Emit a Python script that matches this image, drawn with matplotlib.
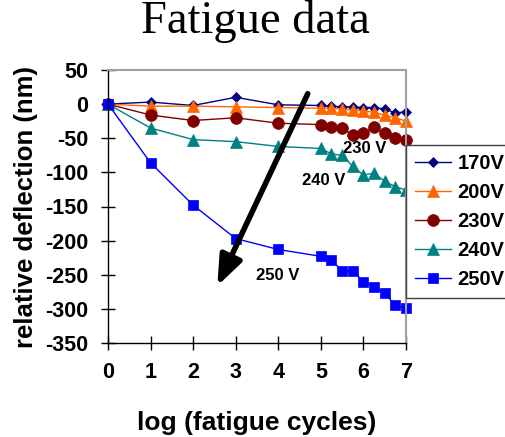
import matplotlib
matplotlib.use('Agg')
import matplotlib.pyplot as plt

# ── Data ──────────────────────────────────────────────────────────────────────

cycles = [0, 1, 2, 3, 4, 5, 5.25, 5.5, 5.75, 6, 6.25, 6.5, 6.75, 7]

v170 = [0, 3, -2, 10, -1, -2, -3, -4, -4, -5, -5, -7, -13, -11]
v200 = [0, -3, -3, -4, -5, -6, -6, -7, -9, -10, -12, -16, -20, -25]
v230 = [0, -16, -24, -20, -28, -30, -33, -35, -45, -43, -33, -43, -50, -52]
v240 = [0, -35, -52, -55, -62, -65, -73, -75, -91, -104, -101, -113, -121, -126]
v250 = [0, -86, -148, -197, -213, -223, -229, -244, -244, -260, -268, -277, -295, -298]

series_labels = ['170V', '200V', '230V', '240V', '250V']
x_ticks = [0, 1, 2, 3, 4, 5, 6, 7]
y_ticks = [50, 0, -50, -100, -150, -200, -250, -300, -350]

# ── Styling ──────────────────────────────────────────────────────────────────

plt.rcParams.update({
    'font.family': ['Liberation Sans', 'DejaVu Sans'],
    'font.weight': 'bold',
    'font.size': 11,
    'axes.unicode_minus': False,
})

fig = plt.figure(figsize=(5.06, 4.37), dpi=100)
ax = fig.add_axes([108 / 506, 1 - 343 / 437, 298 / 506, 273 / 437])

styles = [
    dict(color='#000080', marker='D', markersize=5),
    dict(color='#FF6600', marker='^', markersize=8.5),
    dict(color='#800000', marker='o', markersize=8.5),
    dict(color='#008080', marker='^', markersize=8.5),
    dict(color='#0000FF', marker='s', markersize=6.8),
]

for ys, lab, st in zip([v170, v200, v230, v240, v250], series_labels, styles):
    ax.plot(cycles, ys, linewidth=1, label=lab, clip_on=False,
            markeredgewidth=0.5, **st)

ax.set_xlim(0, 7)
ax.set_ylim(-350, 50)
ax.set_xticks(x_ticks)
ax.set_yticks(y_ticks)
ax.tick_params(direction='inout', length=10, width=1, labelsize=15.5, pad=9)
for lbl in ax.get_xticklabels() + ax.get_yticklabels():
    lbl.set_fontweight('bold')

for side in ['top', 'right']:
    ax.spines[side].set_color('#a0a0a0')
    ax.spines[side].set_linewidth(1.5)
for side in ['left', 'bottom']:
    ax.spines[side].set_color('black')
    ax.spines[side].set_linewidth(1)

ax.set_xlabel('log (fatigue cycles)', fontsize=19, fontweight='bold', labelpad=20)
ax.set_ylabel('relative deflection (nm)', fontsize=18.5, fontweight='bold', labelpad=5)

fig.text(0.505, 1 - 33 / 437, 'Fatigue data', ha='center', va='baseline',
         fontsize=33.5, family='Liberation Serif', fontweight='normal')

# annotations
ax.annotate('', xy=(2.54, -270), xytext=(4.72, 19),
            arrowprops=dict(arrowstyle='-|>,head_length=0.9,head_width=0.35',
                            color='black', lw=4, mutation_scale=20),
            annotation_clip=False)
ax.text(6.03, -65, '230 V', ha='center', va='center', fontsize=12, fontweight='bold')
ax.text(5.07, -112, '240 V', ha='center', va='center', fontsize=12, fontweight='bold')
ax.text(3.99, -251, '250 V', ha='center', va='center', fontsize=12, fontweight='bold')

leg = fig.legend(loc='upper left', bbox_to_anchor=(406 / 506, 1 - 145 / 437),
                 borderaxespad=0, fancybox=False, framealpha=1, edgecolor='#404040',
                 prop={'weight': 'bold', 'size': 14.5}, handlelength=1.8,
                 labelspacing=0.5, borderpad=0.45, handletextpad=0.3)
leg.get_frame().set_linewidth(1)

plt.savefig('out.png', dpi=100)
